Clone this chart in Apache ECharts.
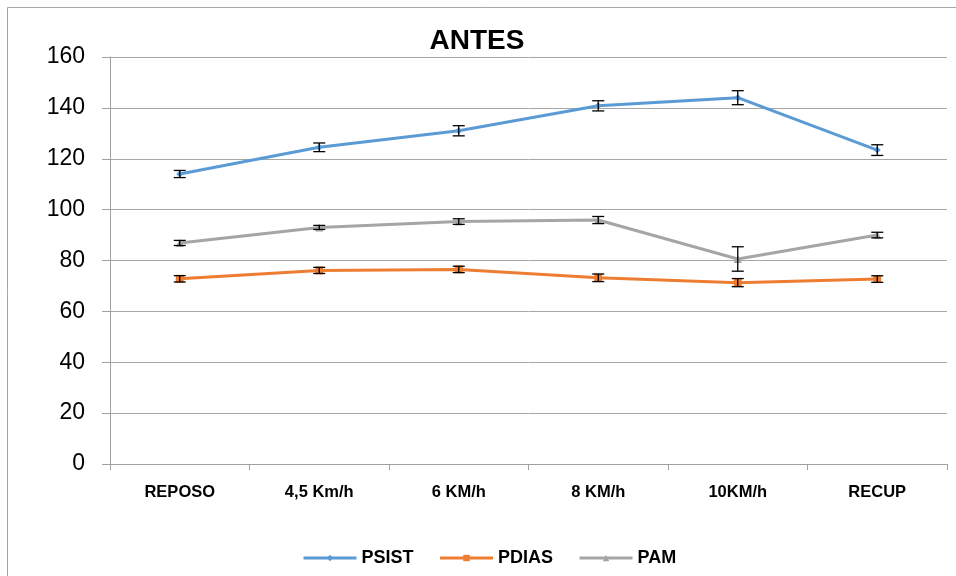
<!DOCTYPE html>
<html>
<head>
<meta charset="utf-8">
<script src="https://cdn.jsdelivr.net/npm/echarts@6/dist/echarts.min.js"></script>
<style>html,body{margin:0;padding:0;background:#fff;}#c{width:956px;height:576px;}</style>
</head>
<body>
<div id="c"></div>
<script>
const categories = ['REPOSO', '4,5 Km/h', '6 KM/h', '8 KM/h', '10KM/h', 'RECUP'];
const psist = [114.0, 124.5, 131.0, 140.8, 144.0, 123.4];
const psistErr = [1.4, 1.7, 2.0, 2.0, 2.75, 2.1];
const pdias = [72.8, 76.1, 76.5, 73.2, 71.3, 72.7];
const pdiasErr = [1.25, 1.2, 1.25, 1.5, 1.6, 1.3];
const pam = [86.9, 93.0, 95.3, 95.9, 80.6, 90.0];
const pamErr = [1.0, 0.8, 1.1, 1.4, 4.8, 1.1];
const yTicks = [0, 20, 40, 60, 80, 100, 120, 140, 160];

const chart = echarts.init(document.getElementById('c'), null, {renderer: 'canvas'});

function errData(vals, errs) {
  return vals.map((v, i) => [i, v, errs[i]]);
}
function errRender(params, api) {
  const x = api.value(0), y = api.value(1), e = api.value(2);
  const top = api.coord([x, y + e]);
  const bot = api.coord([x, y - e]);
  const hw = 6;
  const style = {stroke: '#000', lineWidth: 1.3};
  return {
    type: 'group',
    children: [
      {type: 'line', shape: {x1: top[0], y1: top[1], x2: bot[0], y2: bot[1]}, style: style},
      {type: 'line', shape: {x1: top[0] - hw, y1: top[1], x2: top[0] + hw, y2: top[1]}, style: style},
      {type: 'line', shape: {x1: bot[0] - hw, y1: bot[1], x2: bot[0] + hw, y2: bot[1]}, style: style}
    ]
  };
}

const colors = ['#5B9BD5', '#ED7D31', '#A5A5A5'];

chart.setOption({
  animation: false,
  backgroundColor: '#fff',
  graphic: [{
    type: 'rect', silent: true,
    shape: {x: 7.5, y: 7.5, width: 1000, height: 1000},
    style: {fill: 'none', stroke: '#a6a6a6', lineWidth: 1}
  }],
  title: {
    text: 'ANTES', left: 472, top: 22, textAlign: 'center',
    textStyle: {fontFamily: 'Liberation Sans', fontWeight: 'bold', fontSize: 28, color: '#000'}
  },
  legend: {
    left: 297, top: 544,
    itemWidth: 53, itemHeight: 8, itemGap: 25,
    data: ['PSIST', 'PDIAS', 'PAM'],
    lineStyle: {width: 3},
    textStyle: {fontFamily: 'Liberation Sans', fontWeight: 'bold', fontSize: 18, color: '#000'}
  },
  grid: {left: 110, right: 9, top: 57, bottom: 112, containLabel: false},
  xAxis: {
    type: 'category', data: categories, boundaryGap: true,
    axisLine: {lineStyle: {color: '#a0a0a0', width: 1}},
    axisTick: {show: true, length: 6, lineStyle: {color: '#a0a0a0'}},
    axisLabel: {margin: 20, fontFamily: 'Liberation Sans', fontWeight: 'bold', fontSize: 16.5, color: '#000'},
    splitLine: {show: false}
  },
  yAxis: {
    type: 'value', min: 0, max: 160, interval: 20,
    axisLine: {show: true, lineStyle: {color: '#a0a0a0', width: 1}},
    axisTick: {show: true, length: 8, lineStyle: {color: '#a0a0a0'}},
    axisLabel: {margin: 25, fontFamily: 'Liberation Sans', fontSize: 23, color: '#000',
      formatter: v => yTicks.includes(v) ? String(v) : ''},
    splitLine: {lineStyle: {color: '#a6a6a6', width: 1}}
  },
  series: [
    {name: 'PSIST', type: 'line', data: psist, color: colors[0], symbol: 'diamond', symbolSize: 7,
      lineStyle: {width: 3}, itemStyle: {color: colors[0]}, z: 2},
    {name: 'PDIAS', type: 'line', data: pdias, color: colors[1], symbol: 'rect', symbolSize: 8,
      lineStyle: {width: 3}, itemStyle: {color: colors[1]}, z: 2},
    {name: 'PAM', type: 'line', data: pam, color: colors[2], symbol: 'triangle', symbolSize: 8,
      lineStyle: {width: 3}, itemStyle: {color: colors[2]}, z: 2},
    {name: 'errPSIST', type: 'custom', data: errData(psist, psistErr), renderItem: errRender, z: 5, silent: true},
    {name: 'errPDIAS', type: 'custom', data: errData(pdias, pdiasErr), renderItem: errRender, z: 5, silent: true},
    {name: 'errPAM', type: 'custom', data: errData(pam, pamErr), renderItem: errRender, z: 5, silent: true}
  ]
});
</script>
</body>
</html>
